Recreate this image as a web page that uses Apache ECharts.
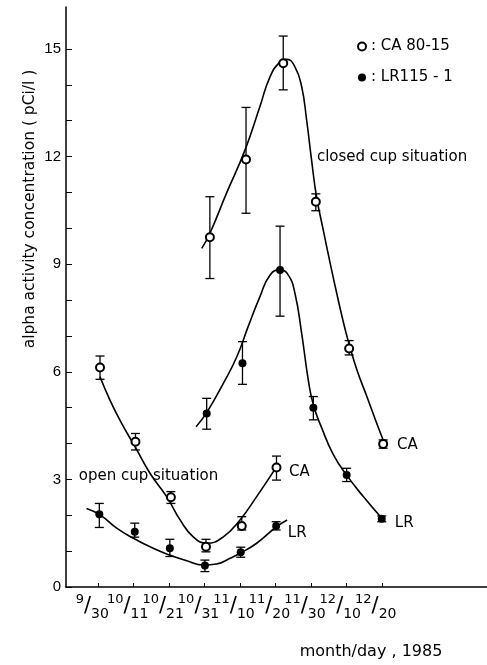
<!DOCTYPE html>
<html>
<head>
<meta charset="utf-8">
<script src="https://cdn.jsdelivr.net/npm/echarts@6/dist/echarts.min.js"></script>
<style>
  body { margin: 0; background: #fff; }
  #chart { width: 487px; height: 665px; }
</style>
</head>
<body>
<div id="chart"></div>
<script>
// tick labels on the x axis: [month, day], one per tick at x = 0..8
const dateLabels = [['9', '30'], ['10', '11'], ['10', '21'], ['10', '31'], ['11', '10'],
  ['11', '20'], ['11', '30'], ['12', '10'], ['12', '20']];
const xTicks = [0, 1, 2, 3, 4, 5, 6, 7, 8];
const yTicks = [0, 1, 2, 3, 4, 5, 6, 7, 8, 9, 10, 11, 12, 13, 14, 15];
const yLabels = [0, 3, 6, 9, 12, 15];

// measurements: [x, value, low, high]
const caClosed = [[3.15, 9.75, 8.60, 10.88], [4.17, 11.92, 10.42, 13.37], [5.22, 14.60, 13.86, 15.36],
  [6.14, 10.74, 10.49, 10.96], [7.08, 6.65, 6.47, 6.87], [8.04, 3.99, 3.87, 4.10]];
const lrClosed = [[3.06, 4.84, 4.40, 5.26], [4.07, 6.24, 5.65, 6.84], [5.13, 8.84, 7.55, 10.06],
  [6.07, 5.00, 4.66, 5.31], [7.01, 3.12, 2.94, 3.31], [8.00, 1.90, 1.82, 1.98]];
const caOpen = [[0.05, 6.12, 5.79, 6.44], [1.05, 4.05, 3.82, 4.28], [2.05, 2.50, 2.33, 2.66],
  [3.04, 1.12, 0.98, 1.33], [4.05, 1.70, 1.59, 1.96], [5.03, 3.33, 2.98, 3.65]];
const lrOpen = [[0.03, 2.03, 1.66, 2.33], [1.03, 1.54, 1.39, 1.78], [2.02, 1.08, 0.85, 1.33],
  [3.01, 0.60, 0.43, 0.75], [4.02, 0.97, 0.83, 1.11], [5.02, 1.70, 1.59, 1.82]];

// hand drawn fit curves
const caClosedCurve = [[2.92, 9.44], [3.15, 9.86], [3.62, 10.98], [4.14, 12.18], [4.56, 13.39],
  [4.85, 14.23], [5.13, 14.64], [5.32, 14.71], [5.55, 14.5], [5.74, 13.95], [5.88, 13.02],
  [6.02, 11.9], [6.16, 10.88], [6.35, 9.95], [6.55, 9.0], [6.75, 8.1], [6.95, 7.25], [7.1, 6.7],
  [7.3, 6.05], [7.58, 5.31], [7.86, 4.56], [8.04, 4.1]];
const lrClosedCurve = [[2.76, 4.47], [3.06, 4.86], [3.53, 5.68], [3.91, 6.42], [4.23, 7.26],
  [4.56, 8.09], [4.85, 8.7], [5.13, 8.84], [5.36, 8.7], [5.55, 8.19], [5.74, 7.07], [5.93, 5.75],
  [6.07, 5.08], [6.3, 4.45], [6.63, 3.7], [7.01, 3.12], [7.48, 2.52], [8.0, 1.92]];
const caOpenCurve = [[0.05, 5.86], [0.33, 5.21], [0.66, 4.56], [1.04, 3.91], [1.46, 3.17],
  [1.93, 2.52], [2.31, 1.87], [2.68, 1.4], [3.06, 1.22], [3.53, 1.4], [4.0, 1.87], [4.47, 2.52],
  [5.03, 3.35]];
const lrOpenCurve = [[-0.33, 2.19], [0.05, 2.01], [0.52, 1.64], [0.99, 1.36], [1.55, 1.08],
  [2.02, 0.89], [2.5, 0.73], [2.96, 0.61], [3.34, 0.64], [3.72, 0.8], [4.0, 0.94], [4.47, 1.22],
  [5.03, 1.68], [5.33, 1.87]];

// text notes: [x, y, text]
const notes = [[6.17, 11.99, 'closed cup situation'], [-0.55, 3.09, 'open cup situation'],
  [8.43, 3.96, 'CA'], [8.37, 1.78, 'LR'], [5.38, 3.21, 'CA'], [5.35, 1.51, 'LR']];

const ink = '#000';
const font = 'DejaVu Sans';

const errorData = [...caClosed, ...lrClosed, ...caOpen, ...lrOpen].map(d => [d[0], d[2], d[3]]);

const curve = (data) => ({
    type: 'line',
    data: data,
    smooth: 0.5,
    showSymbol: false,
    silent: true,
    lineStyle: { color: ink, width: 1.6 },
    z: 2
});

// date labels are stacked fractions; even and odd ticks go on two axes so they never get culled
const dateLabel = (values) => ({
    customValues: values,
    showMinLabel: true,
    showMaxLabel: true,
    margin: 6,
    padding: [0, 12, 0, 0],
    formatter: (v) => {
        const d = dateLabels[Math.round(v)];
        return '{n|' + d[0] + '}{s|/}{d|' + d[1] + '}';
    },
    rich: {
        n: { fontFamily: font, fontSize: 13, lineHeight: 14, verticalAlign: 'top', color: ink },
        s: { fontFamily: font, fontSize: 21, lineHeight: 28, color: ink },
        d: { fontFamily: font, fontSize: 14, lineHeight: 14, verticalAlign: 'bottom', color: ink }
    }
});

const chart = echarts.init(document.getElementById('chart'));

const option = {
    animation: false,
    backgroundColor: '#fff',
    textStyle: { fontFamily: font, color: ink },
    grid: { left: 66, right: 0, top: 7, bottom: 78 },
    legend: {
        data: ['CA 80-15', 'LR115 - 1'],
        orient: 'vertical',
        left: 352,
        top: 34,
        itemGap: 16,
        itemWidth: 8,
        itemHeight: 8,
        formatter: ': {name}',
        textStyle: { fontFamily: font, fontSize: 15, color: ink }
    },
    xAxis: [
        {
            type: 'value',
            min: -0.91,
            max: 10.97,
            splitLine: { show: false },
            axisLine: { onZero: false, lineStyle: { color: ink, width: 1.5 } },
            axisTick: { inside: true, length: 4, customValues: xTicks, lineStyle: { color: ink } },
            axisLabel: dateLabel(xTicks.filter(v => v % 2 === 0)),
            name: 'month/day , 1985',
            nameLocation: 'middle',
            nameGap: 57,
            nameMoveOverlap: false,
            nameTextStyle: { fontFamily: font, fontSize: 16, color: ink, padding: [0, 0, 0, 189] }
        },
        {
            type: 'value',
            position: 'bottom',
            min: -0.91,
            max: 10.97,
            splitLine: { show: false },
            axisLine: { show: false, onZero: false },
            axisTick: { show: false },
            axisLabel: dateLabel(xTicks.filter(v => v % 2 === 1))
        }
    ],
    yAxis: {
        type: 'value',
        min: 0,
        max: 16.17,
        splitLine: { show: false },
        axisLine: { onZero: false, lineStyle: { color: ink, width: 1.5 } },
        axisTick: { inside: true, length: 6, customValues: yTicks, lineStyle: { color: ink } },
        axisLabel: { customValues: yLabels, margin: 5, fontFamily: 'Liberation Sans', fontSize: 15, color: ink },
        name: 'alpha activity concentration ( pCi/l )',
        nameLocation: 'middle',
        nameGap: 28,
        nameMoveOverlap: false,
        nameTextStyle: { fontFamily: font, fontSize: 15.5, color: ink, padding: [0, 0, 0, 176] }
    },
    series: [
        curve(caClosedCurve),
        curve(lrClosedCurve),
        curve(caOpenCurve),
        curve(lrOpenCurve),
        {
            type: 'custom',
            data: errorData,
            encode: { x: 0, y: [1, 2] },
            silent: true,
            z: 3,
            renderItem: (params, api) => {
                const x = api.value(0);
                const top = api.coord([x, api.value(2)]);
                const bot = api.coord([x, api.value(1)]);
                const w = 4.5;
                const style = { stroke: ink, lineWidth: 1.3 };
                return {
                    type: 'group',
                    children: [
                        { type: 'line', shape: { x1: top[0], y1: top[1], x2: bot[0], y2: bot[1] }, style: style },
                        { type: 'line', shape: { x1: top[0] - w, y1: top[1], x2: top[0] + w, y2: top[1] }, style: style },
                        { type: 'line', shape: { x1: bot[0] - w, y1: bot[1], x2: bot[0] + w, y2: bot[1] }, style: style }
                    ]
                };
            }
        },
        {
            name: 'CA 80-15',
            type: 'scatter',
            symbol: 'emptyCircle',
            symbolSize: 8,
            data: [...caClosed, ...caOpen].map(d => [d[0], d[1]]),
            itemStyle: { color: ink, borderColor: ink, borderWidth: 1.4, opacity: 1 },
            z: 4
        },
        {
            name: 'LR115 - 1',
            type: 'scatter',
            symbol: 'circle',
            symbolSize: 8,
            data: [...lrClosed, ...lrOpen].map(d => [d[0], d[1]]),
            itemStyle: { color: ink, opacity: 1 },
            z: 4
        },
        {
            type: 'scatter',
            symbolSize: 0,
            silent: true,
            itemStyle: { opacity: 1 },
            data: notes.map(d => ({ value: [d[0], d[1]], name: d[2] })),
            label: {
                show: true,
                position: 'right',
                distance: 0,
                formatter: '{b}',
                fontFamily: font,
                fontSize: 15,
                color: ink
            },
            z: 5
        }
    ]
};

chart.setOption(option);
</script>
</body>
</html>
